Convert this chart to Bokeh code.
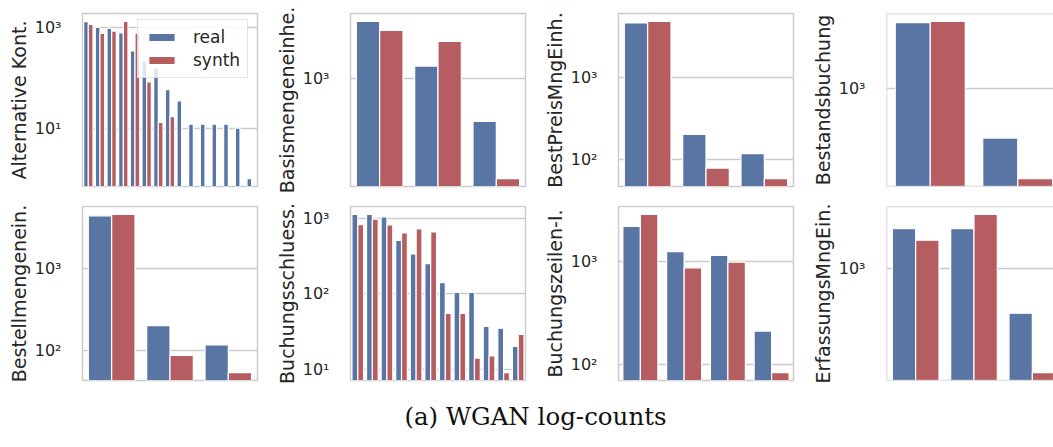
import math
from bokeh.plotting import figure
from bokeh.layouts import column, row
from bokeh.models import (ColumnDataSource, FixedTicker, Range1d, Span, Legend,
                          LegendItem, CustomJSTickFormatter)
from bokeh.embed import file_html
from bokeh.resources import INLINE
from bokeh.core.properties import value

# ---------------- data ----------------
series_names = ["real", "synth"]
caption = "(a) WGAN log-counts"

alt_kont_label = "Alternative Kont."
alt_kont_real = [1298, 1000, 955, 782, 341, 209, 158, 58, 35, 12, 12, 12, 12, 10, 1]
alt_kont_synth = [1148, 770, 845, 1318, 770, 83, 13, 17, 0, 0, 0, 0, 0, 0, 0]
alt_kont_ticks = [10, 1000]

basis_label = "Basismengeneinhe."
basis_real = [3103, 1272, 423]
basis_synth = [2595, 2080, 135]
basis_ticks = [1000]

bestpreis_label = "BestPreisMngEinh."
bestpreis_real = [4627, 202, 117]
bestpreis_synth = [4844, 78, 58]
bestpreis_ticks = [100, 1000]

bestand_label = "Bestandsbuchung"
bestand_real = [4567, 315]
bestand_synth = [4707, 123]
bestand_ticks = [1000]

bestell_label = "Bestellmengenein."
bestell_real = [4490, 200, 116]
bestell_synth = [4680, 86, 53]
bestell_ticks = [100, 1000]

bschl_label = "Buchungsschluess."
bschl_real = [1144, 1144, 1064, 515, 340, 254, 141, 105, 105, 37, 35, 20]
bschl_synth = [838, 990, 830, 647, 733, 667, 55, 55, 14, 15, 9, 29]
bschl_ticks = [10, 100, 1000]

bzeilen_label = "Buchungszeilen-I."
bzeilen_real = [2210, 1254, 1153, 211]
bzeilen_synth = [2896, 873, 990, 83]
bzeilen_ticks = [100, 1000]

erfassung_label = "ErfassungsMngEin."
erfassung_real = [2227, 2227, 414]
erfassung_synth = [1773, 2964, 127]
erfassung_ticks = [1000]

# ---------------- style ----------------
BLUE = "#5975a4"
RED = "#b55d60"
GRID = "#cccccc"
TEXT = "#262626"
FONT = "DejaVu Sans"
FRAME_W = 175
LEFT = 82
RIGHT = 11


def make_panel(label, real, synth, ticks, height, b_top, b_bot, clip_w=None, with_legend=False):
    n = len(real)
    vals = [v for v in real + synth if v > 0]
    lo = math.log10(min(vals))
    hi = math.log10(max(vals))
    span = hi - lo
    y0 = 10 ** (lo - 0.05 * span)
    y1 = 10 ** (hi + 0.05 * span)
    if clip_w is not None:
        x_end = -0.5 + n * clip_w / FRAME_W
        width = LEFT + clip_w
        right = 0
    else:
        x_end = n - 0.5
        width = LEFT + FRAME_W + RIGHT
        right = RIGHT
    p = figure(width=width, height=height, x_range=Range1d(-0.5, x_end),
               y_range=Range1d(y0, y1), y_axis_type="log", x_axis_location=None,
               output_backend="svg", toolbar_location=None,
               min_border_left=LEFT, min_border_right=right,
               min_border_top=b_top, min_border_bottom=b_bot)
    p.background_fill_color = "white"
    p.border_fill_color = "white"
    if clip_w is not None:
        p.outline_line_color = None
        for loc, dim in ((y0, "width"), (y1, "width"), (-0.5, "height")):
            p.add_layout(Span(location=loc, dimension=dim, line_color=GRID, line_width=1.5))
    else:
        p.outline_line_color = GRID
        p.outline_line_width = 1.5

    ax = p.yaxis[0]
    ax.ticker = FixedTicker(ticks=ticks)
    ax.formatter = CustomJSTickFormatter(code="""
        const sup = {"0": "\u2070", "1": "\u00b9", "2": "\u00b2", "3": "\u00b3", "4": "\u2074"};
        const e = Math.round(Math.log10(tick));
        return "10" + String(e).split("").map(c => sup[c]).join("");
    """)
    ax.axis_label = label
    ax.axis_label_text_font = FONT
    ax.axis_label_text_font_size = "19px"
    ax.axis_label_text_font_style = "normal"
    ax.axis_label_text_color = TEXT
    ax.axis_label_standoff = 2
    ax.major_label_text_font = FONT
    ax.major_label_text_font_size = "16px"
    ax.major_label_text_color = TEXT
    ax.major_label_standoff = 15
    ax.major_tick_line_color = None
    ax.minor_tick_line_color = None
    ax.axis_line_color = None

    p.ygrid.grid_line_color = GRID
    p.ygrid.grid_line_width = 1.5
    p.xgrid.grid_line_color = None

    src_r = ColumnDataSource(dict(x=[i - 0.2 for i, v in enumerate(real) if v > 0],
                                  top=[v for v in real if v > 0]))
    src_s = ColumnDataSource(dict(x=[i + 0.2 for i, v in enumerate(synth) if v > 0],
                                  top=[v for v in synth if v > 0]))
    r1 = p.vbar(x="x", top="top", bottom=y0, width=0.4, source=src_r,
                fill_color=BLUE, line_color="white", line_width=1.2)
    r2 = p.vbar(x="x", top="top", bottom=y0, width=0.4, source=src_s,
                fill_color=RED, line_color="white", line_width=1.2)

    if with_legend:
        legend = Legend(items=[LegendItem(label=series_names[0], renderers=[r1]),
                               LegendItem(label=series_names[1], renderers=[r2])],
                        location=(55, 108), margin=0, padding=7, spacing=3,
                        glyph_width=33, glyph_height=10, label_standoff=15,
                        label_height=20,
                        label_text_font=FONT, label_text_font_size="17px",
                        label_text_color=TEXT,
                        border_line_color=GRID, border_line_width=1,
                        background_fill_color="white", background_fill_alpha=0.8)
        p.add_layout(legend)
    return p


H1, T1, B1 = 196, 13, 10
H2, T2, B2 = 190, 10, 6
CLIP = 167

p1 = make_panel(alt_kont_label, alt_kont_real, alt_kont_synth, alt_kont_ticks, H1, T1, B1, with_legend=True)
p2 = make_panel(basis_label, basis_real, basis_synth, basis_ticks, H1, T1, B1)
p3 = make_panel(bestpreis_label, bestpreis_real, bestpreis_synth, bestpreis_ticks, H1, T1, B1)
p4 = make_panel(bestand_label, bestand_real, bestand_synth, bestand_ticks, H1, T1, B1, clip_w=CLIP)
p5 = make_panel(bestell_label, bestell_real, bestell_synth, bestell_ticks, H2, T2, B2)
p6 = make_panel(bschl_label, bschl_real, bschl_synth, bschl_ticks, H2, T2, B2)
p7 = make_panel(bzeilen_label, bzeilen_real, bzeilen_synth, bzeilen_ticks, H2, T2, B2)
p8 = make_panel(erfassung_label, erfassung_real, erfassung_synth, erfassung_ticks, H2, T2, B2, clip_w=CLIP)

CAP_W, CAP_H = 1053, 61
cap = figure(width=CAP_W, height=CAP_H, x_range=Range1d(0, CAP_W), y_range=Range1d(0, CAP_H),
             x_axis_location=None, y_axis_location=None, toolbar_location=None,
             output_backend="svg", min_border=0)
cap.outline_line_color = None
cap.grid.visible = False
cap.text(x=[535], y=[31], text=[caption], text_font=value("DejaVu Serif"),
         text_font_size="24.5px", text_align="center", text_baseline="middle",
         text_color="#111111")

layout = column(row(p1, p2, p3, p4), row(p5, p6, p7, p8), cap)

open("out.html", "w").write(file_html(layout, INLINE))
